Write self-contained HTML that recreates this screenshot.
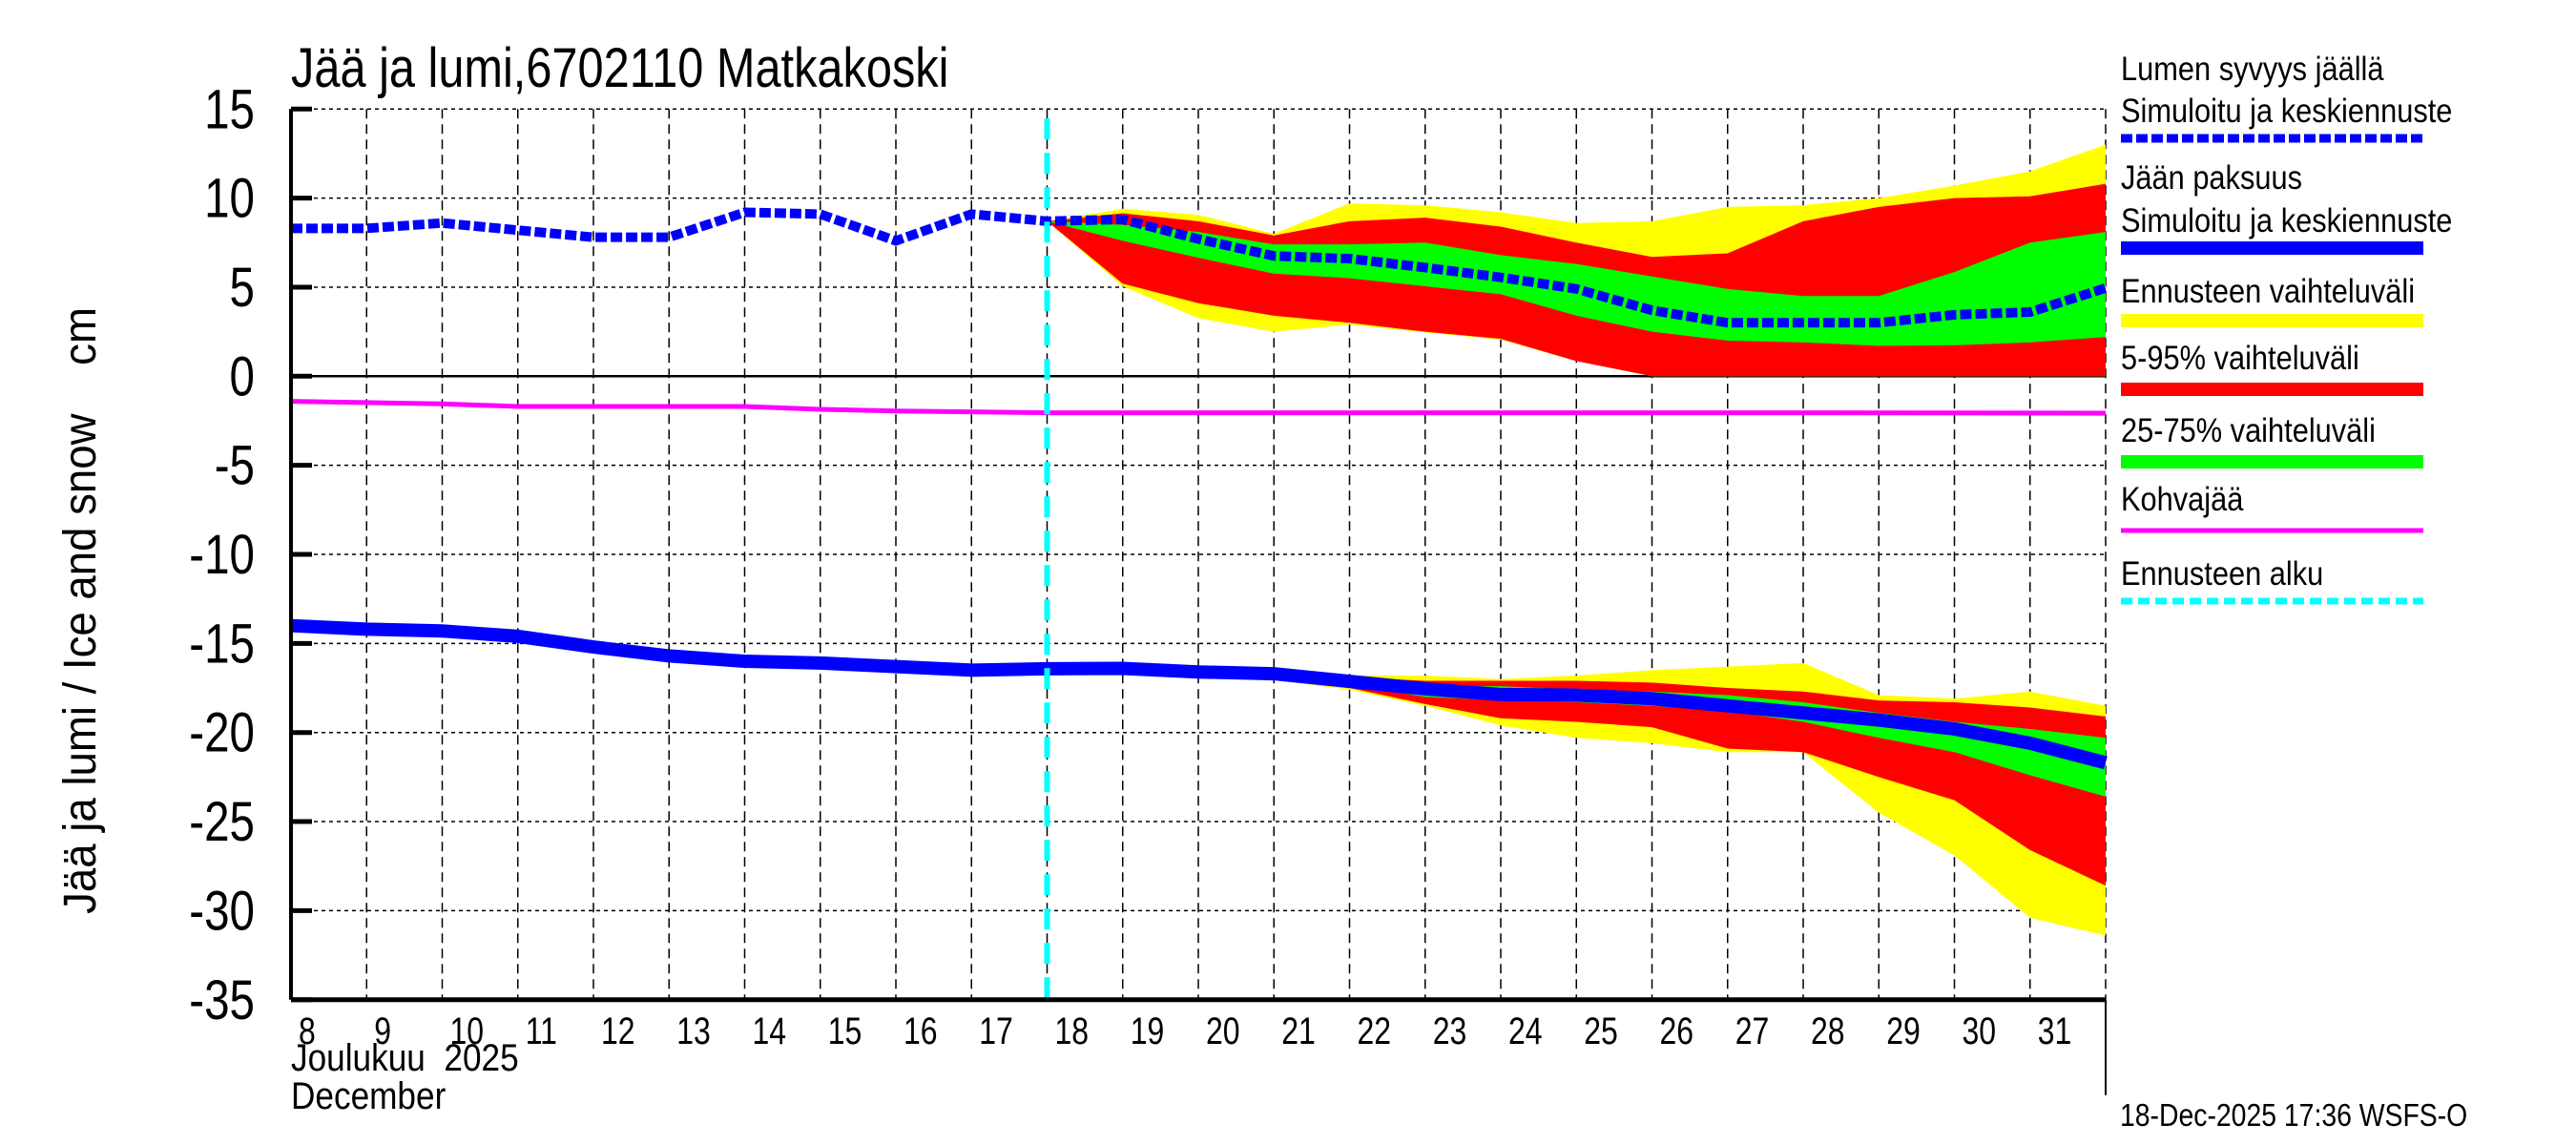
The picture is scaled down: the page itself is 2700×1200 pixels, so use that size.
<!DOCTYPE html>
<html><head><meta charset="utf-8"><style>
html,body{margin:0;padding:0;background:#fff;}
svg{display:block;font-family:"Liberation Sans",sans-serif;}
</style></head><body>
<svg id="chart" width="2700" height="1200" viewBox="0 0 2700 1200" xmlns="http://www.w3.org/2000/svg">
<text transform="translate(305,91) scale(0.84,1)" font-size="58">Jää ja lumi,6702110 Matkakoski</text>
<text transform="translate(100,640) rotate(-90) scale(0.95,1)" text-anchor="middle" font-size="48">Jää ja lumi / Ice and snow&#160;&#160;&#160;&#160;cm</text>
<g id="grid"></g><g id="bands"></g><g id="lines"></g><g id="axes"></g>
<text transform="translate(305,1122) scale(0.88,1)" font-size="40">Joulukuu&#160;&#160;2025</text>
<text transform="translate(305,1162) scale(0.88,1)" font-size="40">December</text>
<text transform="translate(2222,1180) scale(0.86,1)" font-size="33">18-Dec-2025 17:36 WSFS-O</text>
<g id="legend"></g>
</svg>
<script>
const histDays=[8,9,10,11,12,13,14,15,16,17,18];
const snowHist=[8.3,8.3,8.6,8.2,7.8,7.8,9.2,9.1,7.6,9.1,8.7];
const iceHist=[-14.0,-14.2,-14.3,-14.6,-15.2,-15.7,-16.0,-16.1,-16.3,-16.5,-16.42];
const fcDays=[18,19,20,21,22,23,24,25,26,27,28,29,30,31,32];
const snowMed=[8.7,8.8,7.7,6.75,6.6,6.1,5.55,4.9,3.7,3.0,3.0,3.0,3.45,3.6,4.95];
const snowYU=[8.7,9.4,9.06,8.0,9.7,9.6,9.2,8.6,8.7,9.5,9.6,10.0,10.7,11.5,13.0];
const snowRU=[8.7,9.15,8.7,7.9,8.7,8.9,8.4,7.5,6.7,6.9,8.7,9.5,10.0,10.1,10.8];
const snowGU=[8.7,8.5,8.1,7.4,7.4,7.5,6.8,6.3,5.6,4.9,4.5,4.5,5.85,7.5,8.1];
const snowGL=[8.7,7.6,6.65,5.76,5.5,5.05,4.6,3.4,2.5,2.0,1.9,1.7,1.74,1.9,2.2];
const snowRL=[8.7,5.2,4.1,3.4,3.0,2.5,2.1,0.85,0,0,0,0,0,0,0];
const snowYL=[8.7,5.05,3.26,2.5,2.9,2.46,2.05,0.85,0,0,0,0,0,0,0];
const iceMed=[-16.42,-16.4,-16.6,-16.7,-17.13,-17.55,-17.87,-17.9,-18.1,-18.5,-18.9,-19.3,-19.8,-20.6,-21.7];
const iceYU=[-16.42,-16.4,-16.6,-16.7,-16.8,-16.8,-17.0,-16.8,-16.5,-16.3,-16.1,-17.9,-18.1,-17.7,-18.5];
const iceRU=[-16.42,-16.4,-16.6,-16.7,-16.9,-17.1,-17.1,-17.1,-17.2,-17.5,-17.7,-18.2,-18.3,-18.6,-19.1];
const iceGU=[-16.42,-16.4,-16.6,-16.7,-17.0,-17.4,-17.4,-17.6,-17.7,-17.9,-18.3,-18.9,-19.4,-19.8,-20.3];
const iceGL=[-16.42,-16.4,-16.6,-16.8,-17.3,-18.0,-18.2,-18.3,-18.5,-18.8,-19.4,-20.3,-21.1,-22.4,-23.6];
const iceRL=[-16.42,-16.4,-16.6,-17.0,-17.5,-18.4,-19.2,-19.4,-19.7,-20.9,-21.1,-22.5,-23.8,-26.6,-28.6];
const iceYL=[-16.42,-16.4,-16.6,-17.05,-17.6,-18.5,-19.6,-20.3,-20.6,-21.1,-21.1,-24.5,-26.9,-30.4,-31.4];
const kohvaDays=[8,10,11,13,14,15,16,17,18,27,32];
const kohva=[-1.41,-1.55,-1.7,-1.7,-1.7,-1.86,-1.95,-2.0,-2.05,-2.05,-2.07];
const yTicks=[15,10,5,0,-5,-10,-15,-20,-25,-30,-35];
const dayLabels=[8,9,10,11,12,13,14,15,16,17,18,19,20,21,22,23,24,25,26,27,28,29,30,31];
const forecastStart=18;

const X0=305,DX=79.25,Y0=394.3,DY=18.67;
const xs=d=>X0+(d-8)*DX, ys=v=>Y0-v*DY;
const NS='http://www.w3.org/2000/svg';
function mk(tag,attrs,parent){const e=document.createElementNS(NS,tag);for(const k in attrs)e.setAttribute(k,attrs[k]);parent.appendChild(e);return e;}
const grid=document.getElementById('grid'),bands=document.getElementById('bands'),lines=document.getElementById('lines'),axes=document.getElementById('axes'),legend=document.getElementById('legend');
const XR=xs(32),YB=ys(-35),YT=ys(15);
dayLabels.forEach(d=>{if(d===8)return;const l=mk('line',{x1:xs(d),x2:xs(d),y1:YT,y2:YB,stroke:'#000','stroke-width':1.5,'stroke-dasharray':'10,6'},grid);

});
mk('line',{x1:XR,x2:XR,y1:YT,y2:YB,stroke:'#000','stroke-width':1.5,'stroke-dasharray':'10,6'},grid);
yTicks.forEach(v=>{const l=mk('line',{x1:X0,x2:XR,y1:ys(v),y2:ys(v),stroke:'#000','stroke-width':v===0?2.5:1.5,'stroke-dasharray':v===0?'none':'4,4'},grid);


const t=mk('text',{transform:'translate('+(X0-38)+','+(ys(v)+20)+') scale(0.82,1)','text-anchor':'end','font-size':58},axes);t.textContent=v;


const tk=mk('line',{x1:X0,x2:X0+22,y1:ys(v),y2:ys(v),stroke:'#000','stroke-width':5},axes);

});
dayLabels.forEach(d=>{const t=mk('text',{transform:'translate('+(xs(d)+8)+','+(YB+46)+') scale(0.8,1)','font-size':40},axes);t.textContent=d;

});
const ax=mk('line',{x1:X0,x2:X0,y1:YT,y2:YB,stroke:'#000','stroke-width':4},axes);


const bx=mk('line',{x1:X0,x2:XR,y1:YB,y2:YB,stroke:'#000','stroke-width':5},axes);


mk('line',{x1:XR,x2:XR,y1:YB,y2:YB+100,stroke:'#000','stroke-width':2},axes);
function band(up,lo,color,name){let p=fcDays.map((d,i)=>xs(d)+','+ys(up[i]));
for(let i=fcDays.length-1;i>=0;i--)p.push(xs(fcDays[i])+','+ys(lo[i]));
const e=mk('polygon',{points:p.join(' '),fill:color},bands);

}
band(snowYU,snowYL,'#ffff00','snow-forecast-range');
band(snowRU,snowRL,'#ff0000','snow-5-95-range');
band(snowGU,snowGL,'#00ff00','snow-25-75-range');
band(iceYU,iceYL,'#ffff00','ice-forecast-range');
band(iceRU,iceRL,'#ff0000','ice-5-95-range');
band(iceGU,iceGL,'#00ff00','ice-25-75-range');
function pl(days,vals,attrs,name){const e=mk('polyline',Object.assign({points:days.map((d,i)=>xs(d)+','+ys(vals[i])).join(' '),fill:'none'},attrs),lines);

}
pl(kohvaDays,kohva,{stroke:'#ff00ff','stroke-width':5},'kohvajaa-line');
pl(histDays.concat(fcDays.slice(1)),iceHist.concat(iceMed.slice(1)),{stroke:'#0000ff','stroke-width':14},'ice-thickness-line');
pl(histDays.concat(fcDays.slice(1)),snowHist.concat(snowMed.slice(1)),{stroke:'#0000ff','stroke-width':10,'stroke-dasharray':'12,4'},'snow-depth-line');
const cy=mk('line',{x1:xs(forecastStart),x2:xs(forecastStart),y1:YT+10,y2:YB,stroke:'#00ffff','stroke-width':6,'stroke-dasharray':'22,14'},lines);


const LX=2223,LX2=2540;
const ltext=[['Lumen syvyys jäällä',84],['Simuloitu ja keskiennuste',128],['Jään paksuus',198],['Simuloitu ja keskiennuste',243],['Ennusteen vaihteluväli',317],['5-95% vaihteluväli',387],['25-75% vaihteluväli',463],['Kohvajää',535],['Ennusteen alku',613]];
ltext.forEach(([s,y])=>{const t=mk('text',{transform:'translate('+LX+','+y+') scale(0.88,1)','font-size':35},legend);t.textContent=s;

});
const sw=[[145,'#0000ff',9,'12,4'],[260,'#0000ff',14,'none'],[336,'#ffff00',14,'none'],[408,'#ff0000',14,'none'],[484,'#00ff00',14,'none'],[556,'#ff00ff',5,'none'],[630,'#00ffff',7,'12,6']];
sw.forEach(([y,c,w,da])=>{const l=mk('line',{x1:LX,x2:LX2,y1:y,y2:y,stroke:c,'stroke-width':w,'stroke-dasharray':da},legend);

});
</script>
</body></html>
